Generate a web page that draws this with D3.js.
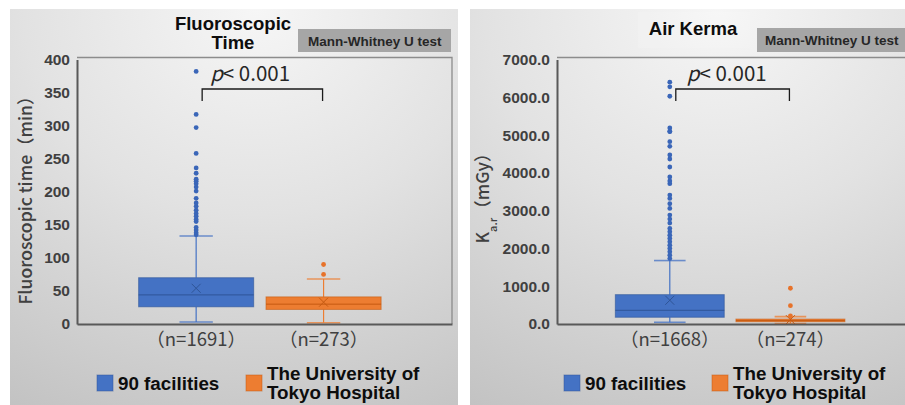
<!DOCTYPE html>
<html><head><meta charset="utf-8">
<script src="https://cdn.jsdelivr.net/npm/d3@7"></script>
<style>html,body{margin:0;padding:0;background:#fff;} svg{display:block;}</style>
</head><body>
<svg id="chart" width="905" height="405"></svg>
<script>
// ---------- data ----------
const seriesNames = ["90 facilities", "The University of Tokyo Hospital"];
const seriesColors = ["#4472c4", "#ed7d31"];
const seriesDark = ["#2f5597", "#c55a11"];
const statOrder = ["min", "q1", "median", "q3", "max", "mean"];

const fluoroCategories = ["（n=1691）", "（n=273）"];
const fluoroFacilities = [3, 26, 44, 70, 133, 54];
const fluoroTokyo = [2, 22, 30, 41, 68, 33];
const fluoroFacilitiesOutliers = [135, 138, 142, 146, 155, 158, 163, 167, 172, 178, 183, 190, 201, 207, 212, 216, 219, 228, 236, 258, 297, 317, 382];
const fluoroTokyoOutliers = [75, 90];
const fluoroTicks = [0, 50, 100, 150, 200, 250, 300, 350, 400];

const kermaCategories = ["（n=1668）", "（n=274）"];
const kermaFacilities = [45, 178, 363, 777, 1679, 628];
const kermaTokyo = [15, 60, 90, 130, 195, 115];
const kermaFacilitiesOutliers = [1732, 1821, 1909, 1998, 2086, 2175, 2263, 2352, 2440, 2528, 2670, 2777, 2883, 3058, 3182, 3323, 3413, 3713, 3784, 3890, 4155, 4367, 4473, 4702, 4826, 5091, 5100, 5189, 6028, 6277, 6399];
const kermaTokyoOutliers = [215, 486, 946];
const kermaTicks = [0, 1000, 2000, 3000, 4000, 5000, 6000, 7000];

const testLabel = "Mann-Whitney U test";
const pLabel = "< 0.001";

// ---------- drawing ----------
const svg = d3.select("#chart");
const defs = svg.append("defs");
const grad = defs.append("radialGradient").attr("id", "bg")
  .attr("cx", "55%").attr("cy", "0%").attr("r", "115%").attr("fx", "55%").attr("fy", "0%");
grad.append("stop").attr("offset", "0%").attr("stop-color", "#f6f6f6");
grad.append("stop").attr("offset", "45%").attr("stop-color", "#e2e2e2");
grad.append("stop").attr("offset", "100%").attr("stop-color", "#c2c2c2");

const CJK = "'Noto Sans CJK JP', 'Noto Sans', sans-serif";
const SANS = "'Liberation Sans', Arial, sans-serif";

function drawPanel(cfg) {
  const g = svg.append("g");
  g.append("rect").attr("x", cfg.panel[0]).attr("y", cfg.panel[1])
    .attr("width", cfg.panel[2]).attr("height", cfg.panel[3]).attr("fill", "url(#bg)");

  if (cfg.titleGlow) {
    g.append("rect").attr("x", cfg.titleGlow[0]).attr("y", cfg.titleGlow[1])
      .attr("width", cfg.titleGlow[2]).attr("height", cfg.titleGlow[3])
      .attr("fill", "#ffffff").attr("opacity", 0.12);
  }

  const x = d3.scaleBand().domain(cfg.categories).range([cfg.plot.l, cfg.plot.r])
    .paddingInner(0.097).paddingOuter(0.52).align(0.465);
  const y = d3.scaleLinear().domain([0, d3.max(cfg.ticks)]).range([cfg.plot.b, cfg.plot.t]);

  // frame (top & right)
  g.append("path")
    .attr("d", `M${cfg.plot.l},${y(d3.max(cfg.ticks)) - 2}H${cfg.plot.r}V${cfg.plot.b}`)
    .attr("fill", "none").attr("stroke", "#8c8c8c").attr("stroke-width", 1.3);

  // boxes
  const series = [
    { stats: cfg.s1, outliers: cfg.o1, color: seriesColors[0], dark: seriesDark[0], dot: "#3a66b8", cat: cfg.categories[0] },
    { stats: cfg.s2, outliers: cfg.o2, color: seriesColors[1], dark: seriesDark[1], dot: "#e7722a", cat: cfg.categories[1] }
  ];
  series.forEach(s => {
    const st = {};
    statOrder.forEach((k, i) => st[k] = s.stats[i]);
    const x0 = x(s.cat), bw = x.bandwidth(), cx = x0 + bw / 2, capW = bw * 0.29;
    const wg = g.append("g");
    wg.append("line").attr("x1", cx).attr("x2", cx).attr("y1", y(st.q3)).attr("y2", y(st.max))
      .attr("stroke", s.color).attr("stroke-width", 1.2);
    wg.append("line").attr("x1", cx).attr("x2", cx).attr("y1", y(st.q1)).attr("y2", y(st.min))
      .attr("stroke", s.color).attr("stroke-width", 1.2);
    [st.max, st.min].forEach(v => {
      wg.append("line").attr("x1", cx - capW / 2).attr("x2", cx + capW / 2)
        .attr("y1", y(v)).attr("y2", y(v)).attr("stroke", s.color).attr("stroke-opacity", 0.75).attr("stroke-width", 1.6);
    });
    wg.append("rect").attr("x", x0).attr("y", y(st.q3)).attr("width", bw)
      .attr("height", Math.max(1, y(st.q1) - y(st.q3)))
      .attr("fill", s.color).attr("stroke", s.dark).attr("stroke-opacity", 0.6).attr("stroke-width", 1);
    wg.append("line").attr("x1", x0).attr("x2", x0 + bw).attr("y1", y(st.median)).attr("y2", y(st.median))
      .attr("stroke", s.dark).attr("stroke-width", 1);
    const m = 4.5, my = y(st.mean);
    wg.append("path").attr("d", `M${cx - m},${my - m}L${cx + m},${my + m}M${cx - m},${my + m}L${cx + m},${my - m}`)
      .attr("stroke", s.dark).attr("stroke-width", 1).attr("fill", "none");
    wg.selectAll("circle.o").data(s.outliers).join("circle").attr("class", "o")
      .attr("cx", cx).attr("cy", d => y(d)).attr("r", 2.4).attr("fill", s.dot);
  });

  // axes
  const ya = d3.axisLeft(y).tickValues(cfg.ticks).tickFormat(d3.format(cfg.fmt)).tickSize(0).tickPadding(7);
  const yG = g.append("g").attr("transform", `translate(${cfg.plot.l},0)`).call(ya);
  yG.select(".domain").attr("stroke", "#595959").attr("stroke-width", 2);
  yG.selectAll("text").attr("font-family", SANS).attr("font-size", 15.5).attr("font-weight", "bold")
    .attr("fill", "#404040");

  const xa = d3.axisBottom(x).tickSize(0).tickPadding(9);
  const xG = g.append("g").attr("transform", `translate(0,${cfg.plot.b})`).call(xa);
  xG.select(".domain").attr("stroke", "#595959").attr("stroke-width", 2);
  xG.selectAll("text").attr("font-family", CJK).attr("font-size", 18.5).attr("fill", "#404040");

  // y-axis title
  const yt = g.append("text").attr("transform", `translate(${cfg.yTitlePos[0]},${cfg.yTitlePos[1]}) rotate(-90)`)
    .attr("text-anchor", "middle").attr("font-family", CJK).attr("font-size", 17.5).attr("font-weight", 500)
    .attr("fill", "#404040");
  cfg.yTitle.forEach(p => {
    const t = yt.append("tspan").text(p.t);
    if (p.sub) t.attr("font-size", 11).attr("baseline-shift", "sub");
  });

  // title
  cfg.title.forEach((line, i) => {
    g.append("text").attr("x", cfg.titlePos[0]).attr("y", cfg.titlePos[1] + i * 19)
      .attr("text-anchor", "middle").attr("font-family", SANS).attr("font-weight", "bold")
      .attr("font-size", 18.5).attr("fill", "#0d0d0d").text(line);
  });

  // test box
  g.append("rect").attr("x", cfg.testBox[0]).attr("y", cfg.testBox[1]).attr("width", cfg.testBox[2])
    .attr("height", cfg.testBox[3]).attr("fill", "#a6a6a6");
  g.append("text").attr("x", cfg.testBox[0] + cfg.testPad).attr("y", cfg.testBox[1] + 17)
    .attr("font-family", SANS).attr("font-weight", "bold").attr("font-size", 13.5)
    .attr("fill", "#262626").text(testLabel);

  // significance bracket
  const c1 = x(cfg.categories[0]) + x.bandwidth() / 2 + 6;
  const c2 = x(cfg.categories[1]) + x.bandwidth() / 2 - 1;
  g.append("path").attr("d", `M${c1},${cfg.bracketY + 12}V${cfg.bracketY}H${c2}V${cfg.bracketY + 12}`)
    .attr("fill", "none").attr("stroke", "#1a1a1a").attr("stroke-width", 1.3);
  const pt = g.append("text").attr("x", c1 + cfg.pDx).attr("y", cfg.bracketY - 8)
    .attr("font-family", CJK).attr("font-size", 20.5).attr("fill", "#262626");
  pt.append("tspan").attr("font-style", "italic").text("p");
  pt.append("tspan").text(pLabel);

  // legend
  seriesNames.forEach((name, i) => {
    const lx = cfg.legendX[i];
    g.append("rect").attr("x", lx).attr("y", 375).attr("width", 16).attr("height", 16)
      .attr("fill", seriesColors[i]).attr("stroke", seriesDark[i]).attr("stroke-opacity", 0.5);
    const lines = i === 0 ? [name] : ["The University of", "Tokyo Hospital"];
    lines.forEach((ln, j) => {
      g.append("text").attr("x", lx + 21).attr("y", (lines.length === 1 ? 390 : 380 + j * 19))
        .attr("font-family", SANS).attr("font-weight", "bold").attr("font-size", 18.8)
        .attr("fill", "#0d0d0d").text(ln);
    });
  });
}

drawPanel({
  panel: [10, 9, 448, 396],
  plot: { l: 77, r: 452, t: 59.5, b: 324 },
  categories: fluoroCategories, ticks: fluoroTicks, fmt: "d",
  s1: fluoroFacilities, s2: fluoroTokyo, o1: fluoroFacilitiesOutliers, o2: fluoroTokyoOutliers,
  yTitle: [{ t: "Fluoroscopic time（min）" }], yTitlePos: [32, 196],
  title: ["Fluoroscopic", "Time"], titlePos: [233, 30],
  testBox: [298, 29, 153, 23], testPad: 10,
  bracketY: 89, pDx: 8,
  legendX: [97, 246]
});

drawPanel({
  panel: [470, 9, 450, 396],
  plot: { l: 557, r: 912, t: 59.5, b: 324 },
  categories: kermaCategories, ticks: kermaTicks, fmt: ".1f",
  s1: kermaFacilities, s2: kermaTokyo, o1: kermaFacilitiesOutliers, o2: kermaTokyoOutliers,
  yTitle: [{ t: "K" }, { t: "a.r", sub: true }, { t: "（mGy）" }], yTitlePos: [489, 194],
  title: ["Air Kerma"], titlePos: [693, 35],
  titleGlow: [638, 12, 112, 36],
  testBox: [757, 28, 160, 24], testPad: 8,
  bracketY: 89, pDx: 11,
  legendX: [564, 712]
});
</script>
</body></html>
